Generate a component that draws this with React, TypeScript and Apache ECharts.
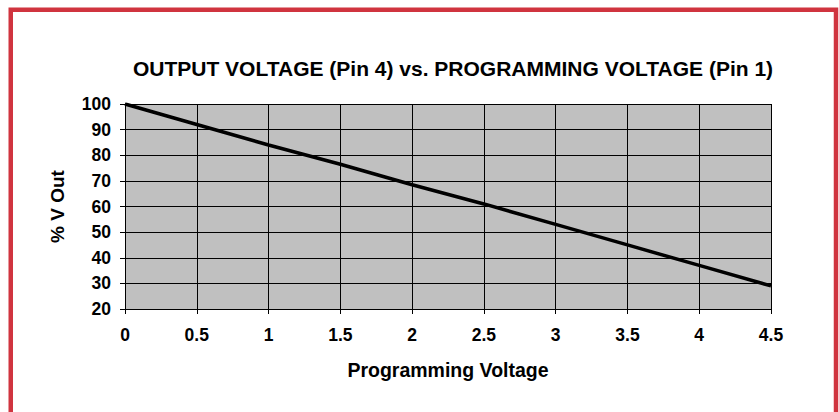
import React, { useEffect, useRef } from "react";
import * as echarts from "echarts";

const titleText = "OUTPUT VOLTAGE (Pin 4) vs. PROGRAMMING VOLTAGE (Pin 1)";
const xName = "Programming Voltage";
const yName = "% V Out";
const programmingVoltage = [0, 0.5, 1, 1.5, 2, 2.5, 3, 3.5, 4, 4.5];
const percentVOut = [100, 92, 84, 76.5, 68.5, 61, 53, 45, 37, 29];

const FONT = '"Liberation Sans", Arial, Helvetica, sans-serif';

export default function App() {
  const ref = useRef<HTMLDivElement>(null);
  useEffect(() => {
    if (!ref.current) return;
    const chart = echarts.init(ref.current, undefined, { renderer: "svg" });
    const data = programmingVoltage.map((x, i) => [x, percentVOut[i]]);
    chart.setOption({
      animation: false,
      backgroundColor: "#ffffff",
      textStyle: { fontFamily: FONT },
      title: {
        text: titleText,
        left: 448,
        top: 53,
        textAlign: "center",
        textStyle: { fontFamily: FONT, fontWeight: "bold", fontSize: 21, color: "#000" },
      },
      graphic: [
        {
          type: "rect",
          shape: { x: 10.75, y: 9.75, width: 825.25, height: 420 },
          style: { fill: "none", stroke: "#d0343f", lineWidth: 4.5 },
          silent: true,
        },
      ],
      grid: { left: 125, top: 104, right: 68, bottom: 103, show: true, backgroundColor: "#c0c0c0", borderWidth: 0 },
      xAxis: {
        type: "value",
        min: 0,
        max: 4.5,
        interval: 0.5,
        name: xName,
        nameLocation: "middle",
        nameGap: 51,
        nameTextStyle: { fontFamily: FONT, fontWeight: "bold", fontSize: 19.5, color: "#000" },
        axisLine: { show: true, lineStyle: { color: "#000", width: 1 } },
        axisTick: { show: true, length: 5, lineStyle: { color: "#000" } },
        axisLabel: { margin: 17, fontFamily: FONT, fontWeight: "bold", fontSize: 17.5, color: "#000" },
        splitLine: { show: true, lineStyle: { color: "#000", width: 1 } },
      },
      yAxis: {
        type: "value",
        min: 20,
        max: 100,
        interval: 10,
        name: yName,
        nameLocation: "middle",
        nameGap: 58,
        nameTextStyle: { fontFamily: FONT, fontWeight: "bold", fontSize: 19, color: "#000" },
        axisLine: { show: true, lineStyle: { color: "#000", width: 1 } },
        axisTick: { show: true, length: 5, lineStyle: { color: "#000" } },
        axisLabel: { margin: 14, fontFamily: FONT, fontWeight: "bold", fontSize: 17.5, color: "#000" },
        splitLine: { show: true, lineStyle: { color: "#000", width: 1 } },
      },
      series: [
        {
          type: "line",
          data,
          showSymbol: false,
          symbol: "none",
          lineStyle: { color: "#000", width: 3.5 },
          z: 5,
        },
      ],
    });
    return () => chart.dispose();
  }, []);
  return (
    <div
      ref={ref}
      style={{ position: "fixed", left: 0, top: 0, width: 839, height: 412, background: "#fff" }}
    />
  );
}
